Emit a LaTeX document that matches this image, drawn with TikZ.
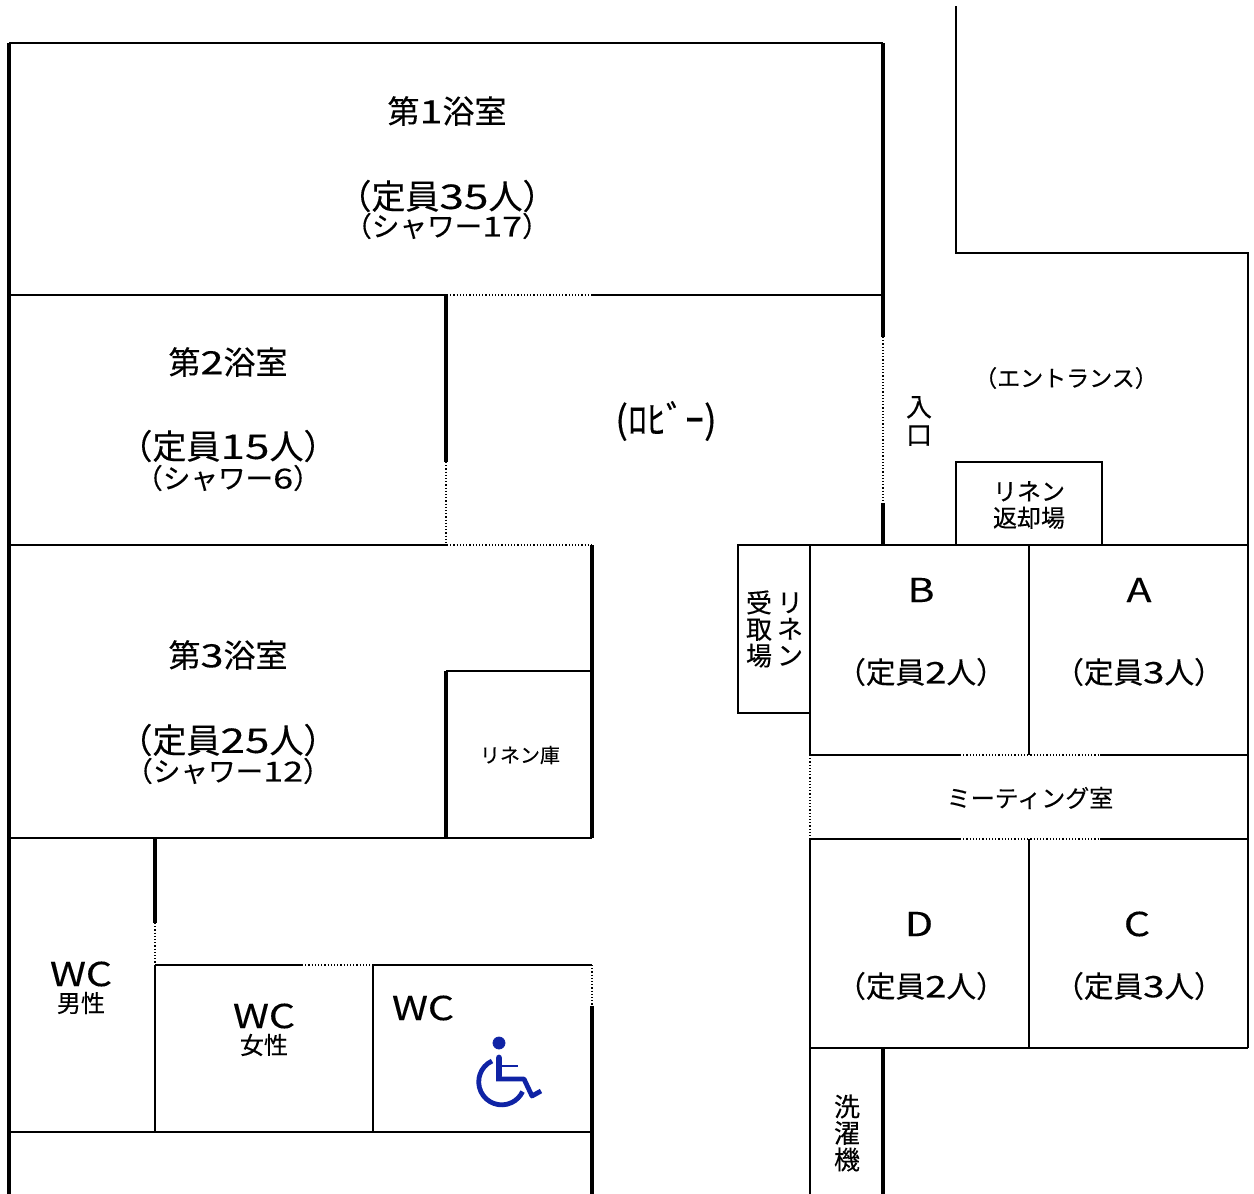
\documentclass[tikz,border=0pt]{standalone}
\usepackage{fontspec}
\setmainfont[FakeBold=0.3]{Noto Sans CJK JP}
\newfontfamily\widefont[FakeStretch=1.3,FakeBold=0.3]{Noto Sans CJK JP}
\newfontfamily\letterfont[FakeStretch=1.25,FakeBold=0.2]{Noto Sans CJK JP}
\newcommand{\wdg}[1]{{\widefont #1}}
\tikzset{
	wall/.style={line width=1.4pt},
	heavywall/.style={line width=1.8pt},
	thinwall/.style={line width=0.55pt},
	door/.style={line width=0.6pt,densely dotted},
	title/.style={font=\fontsize{16}{18}\selectfont,inner sep=0pt},
	big/.style={font=\fontsize{17}{18}\selectfont,inner sep=0pt},
	mid/.style={font=\fontsize{13.8}{16}\selectfont,inner sep=0pt},
	room/.style={font=\fontsize{14.8}{16}\selectfont,inner sep=0pt},
	small/.style={font=\fontsize{12}{13.25}\selectfont,inner sep=0pt,align=center},
	column/.style={font=\fontsize{13}{13.25}\selectfont,inner sep=0pt,align=center},
	tiny/.style={font=\fontsize{10}{12}\selectfont,inner sep=0pt},
	letter/.style={font=\fontsize{16.5}{18}\selectfont\letterfont,inner sep=0pt}
}
\definecolor{wheelblue}{RGB}{15,35,165}
\begin{document}
\begin{tikzpicture}[x=0.5pt,y=-0.5pt]
		\useasboundingbox (0,0) rectangle (1254,1194);
		
		% baths
		\draw [heavywall] (9,1194) -- (9,43);
		\draw [wall] (9,43) -- (883,43);
		\draw [heavywall] (883,43) -- (883,337);
		\draw [door] (883,337) -- (883,503);
		\draw [heavywall] (883,503) -- (883,545);
		\draw [wall] (9,295) -- (447,295);
		\draw [door] (447,295) -- (592,295);
		\draw [wall] (592,295) -- (883,295);
		\draw [heavywall] (446,295) -- (446,462);
		\draw [door] (446,462) -- (446,545);
		\draw [wall] (9,545) -- (447,545);
		\draw [door] (447,545) -- (592,545);
		\draw [heavywall] (592,545) -- (592,838);
		\draw [wall] (446,671) -- (592,671);
		\draw [heavywall] (446,671) -- (446,838);
		\draw [wall] (9,838) -- (592,838);
		
		% toilets
		\draw [heavywall] (155,838) -- (155,923);
		\draw [door] (155,923) -- (155,965);
		\draw [thinwall] (155,965) -- (155,1132);
		\draw [wall] (155,965) -- (302,965);
		\draw [door] (302,965) -- (373,965);
		\draw [wall] (373,965) -- (592,965);
		\draw [thinwall] (373,965) -- (373,1132);
		\draw [door] (592,965) -- (592,1006);
		\draw [heavywall] (592,1006) -- (592,1194);
		\draw [wall] (9,1132) -- (592,1132);
		
		% entrance
		\draw [thinwall] (956,6) -- (956,253) -- (1248,253) -- (1248,545);
		\draw [thinwall] (956,545) -- (956,462) -- (1102,462) -- (1102,545);
		\draw [thinwall] (810,545) -- (738,545) -- (738,713) -- (810,713);
		
		% small rooms
		\draw [wall] (810,755) -- (810,545) -- (1248,545) -- (1248,755);
		\draw [thinwall] (1029,545) -- (1029,755);
		\draw [wall] (810,755) -- (960,755);
		\draw [door] (960,755) -- (1100,755);
		\draw [wall] (1100,755) -- (1248,755);
		\draw [door] (810,755) -- (810,839);
		\draw [thinwall] (1248,755) -- (1248,839);
		\draw [thinwall] (810,839) -- (960,839);
		\draw [door] (960,839) -- (1100,839);
		\draw [thinwall] (1100,839) -- (1248,839);
		\draw [wall] (810,839) -- (810,1048);
		\draw [wall] (1248,839) -- (1248,1048);
		\draw [thinwall] (1029,839) -- (1029,1048);
		\draw [wall] (810,1048) -- (1248,1048);
		\draw [thinwall] (810,1048) -- (810,1194);
		\draw [heavywall] (883,1048) -- (883,1194);
		
		\node [title] (bath1) at (447,111) {第\wdg{1}浴室};
		\node [big] (cap1) at (447,196) {（定員\wdg{35}人）};
		\node [mid] (shower1) at (447,226) {（シャワー\wdg{17}）};
		\node [title] (bath2) at (228,362) {第\wdg{2}浴室};
		\node [big] (cap2) at (228,446) {（定員\wdg{15}人）};
		\node [mid] (shower2) at (228,478) {（シャワー\wdg{6}）};
		\node [title] (bath3) at (228,655) {第\wdg{3}浴室};
		\node [big] (cap3) at (228,740) {（定員\wdg{25}人）};
		\node [mid] (shower3) at (228,771) {（シャワー\wdg{12}）};
		
		\node [font=\fontsize{19}{20}\selectfont,inner sep=0pt] (lobby) at (666,421) {(ﾛﾋﾞｰ)};
		\node [tiny] (linenstore) at (520,755) {リネン庫};
		\node [font=\fontsize{11.5}{13}\selectfont,inner sep=0pt] (hall) at (1066,378) {（エントランス）};
		\node [column,font=\fontsize{13}{14}\selectfont] (way) at (919,421) {入\\口};
		\node [small] (linenback) at (1029,505) {リネン\\返却場};
		\node [column] (linenget1) at (790,629) {リ\\ネ\\ン};
		\node [column] (linenget2) at (759,629) {受\\取\\場};
		\node [column] (washer) at (847,1133) {洗\\濯\\機};
		\node [small] (meeting) at (1030,798) {ミーティング室};
		
		\node [letter] (roomb) at (921,590) {B};
		\node [letter] (rooma) at (1139,590) {A};
		\node [letter] (roomd) at (919,924) {D};
		\node [letter] (roomc) at (1137,924) {C};
		\node [room] (capb) at (921,672) {（定員\wdg{2}人）};
		\node [room] (capa) at (1139,672) {（定員\wdg{3}人）};
		\node [room] (capd) at (921,986) {（定員\wdg{2}人）};
		\node [room] (capc) at (1139,986) {（定員\wdg{3}人）};
		
		\node [letter] (wcm) at (81,974) {WC};
		\node [small] (men) at (81,1003) {男性};
		\node [letter] (wcw) at (264,1016) {WC};
		\node [small] (women) at (264,1045) {女性};
		\node [letter] (wcd) at (423,1008) {WC};
		
		% wheelchair
		\filldraw [wheelblue] (499,1043) circle (6);
		\draw [wheelblue,line width=3.4pt,line cap=round] (499,1058) -- (499,1076);
		\draw [wheelblue,line width=2.4pt,line join=round] (496,1079) -- (524,1079) -- (532,1096) -- (541,1091);
		\draw [wheelblue,line width=1.4pt] (499,1066) -- (518,1066);
		\draw [wheelblue,line width=2.4pt] (492,1061) arc [start angle=245,end angle=25,radius=23];
		
	\end{tikzpicture}
\end{document}
